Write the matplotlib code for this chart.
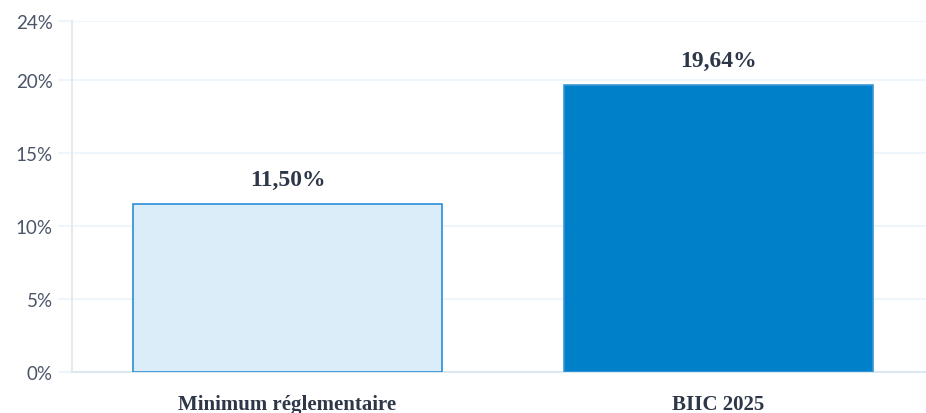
import numpy as np
import matplotlib.pyplot as plt

categories = ["Minimum réglementaire", "BIIC 2025"]
values = [11.50, 19.64]
labels = ["11,50%", "19,64%"]
yticks = [0, 5, 10, 15, 20, 24]

fig = plt.figure(figsize=(9.26, 4.14), dpi=100)
ax = fig.add_axes([72/926, 41/414, 854/926, 351/414])

x = np.arange(len(categories))
ax.bar(x, values, width=0.717, color=["#dbedf8", "#0080c9"],
       edgecolor=["#2a8fd6", "#3a96d6"], linewidth=1.2, zorder=3)

for xi, v, lab in zip(x, values, labels):
    ax.annotate(lab, (xi, v), xytext=(0, 17.5), textcoords="offset points",
                ha="center", va="center", fontsize=17, fontweight="bold",
                family="Liberation Serif", color="#2d3748")

ax.set_xlim(-0.5, 1.4814)
ax.set_ylim(0, 24)
ax.set_yticks(yticks)
ax.set_yticklabels([f"{t}%" for t in yticks], family="Lato", fontsize=13.5,
                   color="#4a5568")
ax.set_xticks(x)
ax.set_xticklabels(categories, family="Liberation Serif", fontsize=15,
                   fontweight="bold", color="#2d3748")
ax.tick_params(axis="y", length=10, color="#eef6fb", width=1.5, pad=4)
ax.tick_params(axis="x", length=0, pad=16)
ax.grid(axis="y", color="#eef6fb", linewidth=1.5, zorder=0)
for s in ["top", "right"]:
    ax.spines[s].set_visible(False)
ax.spines["left"].set_color("#e6e9ee")
ax.spines["left"].set_linewidth(1.5)
ax.spines["bottom"].set_color("#dde8f0")
ax.spines["bottom"].set_linewidth(1.5)

fig.savefig("out.png", dpi=100)
